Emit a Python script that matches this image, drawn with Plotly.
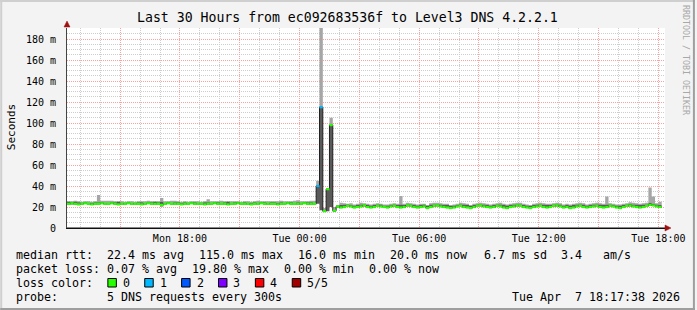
import pandas as pd
import plotly.graph_objects as go

# ---------------- data (10-minute bins starting Mon 12:20) ----------------
bin_start = "2026-04-06 12:20"
bin_minutes = 10

median_ms = [
    23.0, 23.5, 23.0, 22.5, 23.0, 23.5, 23.0, 22.5, 23.0, 23.0,
    23.5, 23.0, 23.0, 23.5, 23.0, 22.5, 23.0, 23.0, 23.5, 23.0,
    23.0, 23.0, 22.5, 23.0, 23.5, 23.0, 23.0, 23.0, 22.0, 23.0,
    23.5, 23.0, 23.0, 23.0, 22.5, 23.0, 23.0, 23.5, 23.0, 23.0,
    23.0, 22.5, 23.0, 23.0, 23.5, 23.0, 23.0, 23.0, 22.5, 23.0,
    23.0, 23.5, 23.0, 23.0, 23.0, 22.5, 23.0, 23.0, 23.5, 23.0,
    23.0, 23.0, 23.0, 22.5, 23.0, 23.0, 23.5, 23.0, 23.0, 23.0,
    23.0, 23.5, 23.0, 23.0, 23.0,
    40.0, 115.0, 16.0, 37.0, 98.0, 16.5,
    20.5, 19.5, 20.0, 21.0, 20.5, 19.5, 20.0, 20.5, 21.5, 20.0,
    19.5, 20.0, 21.0, 20.5, 20.0, 19.5, 20.5, 21.0, 20.0, 19.5,
    20.0, 21.5, 21.0, 20.0, 19.5, 20.0, 20.5, 19.0, 20.0, 21.0,
    21.5, 20.5, 20.0, 19.5, 19.0, 19.5, 20.5, 21.0, 20.0, 19.5,
    19.0, 20.0, 21.0, 21.5, 20.5, 20.0, 19.5, 20.0, 21.0, 20.5,
    19.5, 19.0, 20.0, 20.5, 21.5, 21.0, 20.0, 19.5, 19.0, 20.0,
    20.5, 21.0, 20.0, 19.5, 20.0, 21.0, 21.5, 20.5, 19.5, 20.0,
    19.0, 19.5, 20.5, 21.0, 20.0, 19.5, 20.0, 20.5, 21.0, 20.0,
    19.5, 20.0, 21.0, 20.5, 19.5, 19.0, 20.0, 21.0, 21.5, 20.5,
    20.0, 19.5, 20.0, 21.0, 22.0, 21.5, 20.5, 20.0,
]

smoke_min = [
    22.5, 22.5, 22.5, 22.0, 22.5, 23.0, 22.5, 22.0, 22.5, 22.5,
    23.0, 22.5, 22.5, 23.0, 22.5, 22.0, 22.5, 22.5, 23.0, 22.5,
    22.5, 22.5, 22.0, 22.5, 23.0, 22.5, 22.5, 22.5, 20.5, 22.5,
    23.0, 22.5, 22.5, 22.5, 22.0, 22.5, 22.5, 23.0, 22.5, 22.5,
    22.5, 22.0, 22.5, 22.5, 23.0, 22.5, 22.5, 22.5, 22.0, 22.5,
    22.5, 23.0, 22.5, 22.5, 22.5, 22.0, 22.5, 22.5, 23.0, 22.5,
    22.5, 22.5, 22.5, 22.0, 22.5, 22.5, 23.0, 22.5, 22.5, 22.5,
    22.5, 23.0, 22.5, 22.5, 22.5,
    23.0, 17.0, 15.5, 16.0, 20.0, 15.5,
    19.5, 19.0, 19.5, 20.0, 20.0, 19.0, 19.5, 20.0, 20.5, 19.5,
    19.0, 19.5, 20.0, 20.0, 19.5, 19.0, 20.0, 20.0, 19.5, 19.0,
    19.5, 20.5, 20.0, 19.5, 19.0, 19.5, 20.0, 18.5, 19.5, 20.0,
    20.5, 20.0, 19.5, 19.0, 18.5, 19.0, 20.0, 20.0, 19.5, 19.0,
    18.5, 19.5, 20.0, 20.5, 20.0, 19.5, 19.0, 19.5, 20.0, 20.0,
    19.0, 18.5, 19.5, 20.0, 20.5, 20.0, 19.5, 19.0, 18.5, 19.5,
    20.0, 20.0, 19.5, 19.0, 19.5, 20.0, 20.5, 20.0, 19.0, 19.5,
    18.5, 19.0, 20.0, 20.0, 19.5, 19.0, 19.5, 20.0, 20.0, 19.5,
    19.0, 19.5, 20.0, 20.0, 19.0, 18.5, 19.5, 20.0, 20.5, 20.0,
    19.5, 19.0, 19.5, 20.0, 21.0, 21.0, 20.0, 19.5,
]

smoke_core = [
    25.0, 24.5, 25.0, 24.5, 24.0, 24.5, 24.0, 24.0, 24.5, 24.5,
    24.5, 24.0, 24.0, 24.5, 24.5, 25.0, 24.0, 24.0, 24.5, 24.0,
    24.0, 24.5, 24.5, 24.0, 24.5, 24.5, 25.0, 24.5, 25.0, 24.0,
    24.5, 24.0, 24.5, 24.5, 24.0, 24.5, 24.0, 24.5, 24.5, 24.0,
    24.0, 24.5, 24.5, 24.0, 24.5, 24.5, 24.0, 24.5, 25.0, 24.0,
    24.5, 24.5, 24.0, 24.5, 24.0, 24.0, 24.5, 24.0, 24.5, 24.5,
    24.0, 24.5, 24.5, 24.0, 24.5, 24.0, 24.5, 24.5, 24.0, 24.5,
    24.0, 24.5, 24.5, 24.5, 24.0,
    41.0, 115.0, 16.5, 37.0, 98.0, 17.0,
    21.5, 22.0, 22.5, 22.5, 22.0, 21.5, 22.0, 22.5, 22.5, 22.0,
    21.5, 22.0, 22.5, 22.5, 21.5, 21.5, 22.0, 22.5, 22.0, 22.5,
    22.0, 22.5, 22.5, 22.0, 21.5, 22.0, 22.5, 21.0, 22.5, 22.5,
    22.5, 22.5, 22.0, 22.0, 21.0, 21.5, 22.0, 22.5, 22.5, 22.0,
    21.0, 22.0, 22.5, 22.5, 22.5, 22.0, 21.5, 22.0, 22.5, 22.5,
    22.0, 21.5, 22.0, 22.5, 22.5, 22.5, 22.0, 21.5, 21.0, 22.0,
    22.5, 22.5, 22.5, 22.0, 22.0, 22.5, 22.5, 22.5, 21.5, 22.0,
    21.5, 22.0, 22.5, 22.5, 22.5, 21.5, 22.0, 22.5, 22.5, 22.5,
    22.0, 22.5, 22.5, 22.0, 21.5, 21.5, 22.0, 22.5, 23.0, 22.5,
    22.5, 22.0, 22.5, 22.5, 24.0, 23.0, 22.5, 22.0,
]

smoke_max = [
    25.5, 25.5, 26.0, 25.5, 25.0, 25.5, 25.5, 25.0, 25.5, 31.5,
    26.0, 26.0, 26.0, 26.0, 25.5, 25.5, 25.5, 25.0, 25.5, 25.5,
    25.0, 25.5, 25.5, 25.5, 26.0, 25.5, 25.5, 25.5, 28.5, 25.5,
    25.5, 26.0, 26.0, 25.5, 25.0, 25.5, 25.0, 25.5, 25.5, 25.5,
    25.0, 25.5, 27.5, 25.5, 25.5, 25.5, 26.0, 25.5, 25.5, 25.5,
    25.5, 25.5, 25.0, 25.5, 25.5, 25.0, 25.5, 26.0, 25.5, 25.5,
    25.5, 25.5, 25.5, 25.5, 26.0, 25.5, 25.5, 25.5, 26.0, 26.5,
    25.5, 25.5, 25.5, 26.0, 26.0,
    45.0, 200.0, 19.0, 38.0, 105.0, 20.0,
    22.0, 24.0, 23.5, 23.0, 23.5, 22.5, 23.0, 24.0, 23.5, 23.0,
    22.5, 23.0, 23.5, 23.0, 22.5, 22.5, 23.0, 23.5, 23.0, 30.5,
    23.0, 24.0, 23.5, 23.0, 22.5, 23.0, 23.0, 22.0, 23.5, 24.0,
    24.0, 23.5, 23.0, 23.0, 22.0, 22.5, 23.0, 24.0, 23.5, 23.0,
    22.0, 23.0, 23.5, 24.0, 23.5, 23.0, 22.5, 23.0, 23.5, 24.0,
    23.0, 22.5, 23.0, 23.5, 24.0, 24.0, 23.0, 22.5, 22.0, 23.0,
    23.5, 24.0, 23.5, 23.0, 23.0, 23.5, 24.0, 23.5, 22.5, 23.0,
    22.5, 23.0, 23.5, 24.0, 23.5, 22.5, 23.0, 23.5, 24.0, 23.5,
    23.0, 30.0, 23.5, 23.0, 22.5, 22.5, 23.0, 23.5, 24.5, 24.0,
    23.5, 23.0, 23.5, 24.0, 38.5, 30.0, 23.5, 25.0,
]

# bins with lost pings (index into the arrays above) and how many of 5 were lost
loss_bins = [75, 76]
loss_counts = [1, 1]

loss_labels = ["0", "1", "2", "3", "4", "5/5"]
loss_colors = ["#26ff00", "#00b8ff", "#0059ff", "#7e00ff", "#ff0000", "#a10000"]

y_tickvals = [0, 20, 40, 60, 80, 100, 120, 140, 160, 180]
y_ticktext = ["0", "20 m", "40 m", "60 m", "80 m", "100 m", "120 m", "140 m", "160 m", "180 m"]

title_text = "Last 30 Hours from ec092683536f to Level3 DNS 4.2.2.1"
rtt_items = ["median rtt:  22.4 ms avg", "115.0 ms max", "16.0 ms min", "20.0 ms now", "6.7 ms sd  3.4   am/s"]
loss_items = ["packet loss: 0.07 % avg", "19.80 % max", "0.00 % min", "0.00 % now"]
color_label = "loss color:"
probe_items = ["probe:", "5 DNS requests every 300s"]
stamp_text = "Tue Apr  7 18:17:38 2026"

n = len(median_ms)
assert len(smoke_min) == n and len(smoke_core) == n and len(smoke_max) == n

# ---------------- layout geometry (pixels) ----------------
W, H = 697, 310
L, R, T, B = 67, 667, 28, 228
MONO = "DejaVu Sans Mono"
LEG_SIZE = 11.63          # gives a 7.0 px character advance

def px(xp):
    return (xp - L) / (R - L)

def py(yp):
    return (B - yp) / (B - T)

def keep_spaces(s):
    return s.replace(" ", "\u00a0")

edges = list(pd.date_range(bin_start, periods=n + 1, freq=f"{bin_minutes}min"))
x_start = pd.Timestamp("2026-04-06 12:20")
x_end = pd.Timestamp("2026-04-07 18:20")

loss = [0] * n
for b, c in zip(loss_bins, loss_counts):
    loss[b] = c

fig = go.Figure()

def stepped(vals, **kw):
    return go.Scatter(x=edges, y=list(vals) + [vals[-1]], mode="lines",
                      line=dict(width=0, shape="hv"), hoverinfo="skip", **kw)

# light smoke (core top -> max)
fig.add_trace(stepped(smoke_core))
fig.add_trace(stepped(smoke_max, fill="tonexty", fillcolor="#a6a6a6"))
# dark smoke (min -> core top)
fig.add_trace(stepped(smoke_min))
fig.add_trace(stepped(smoke_core, fill="tonexty", fillcolor="#5a5a5a"))

# thin dark median step line
fig.add_trace(go.Scatter(x=edges, y=list(median_ms) + [median_ms[-1]], mode="lines",
                         line=dict(color="#202020", width=1, shape="hv"), hoverinfo="skip"))

# coloured median segments by loss
for lvl in sorted(set(loss)):
    xs, ys = [], []
    for k in range(n):
        if loss[k] == lvl:
            xs += [edges[k], edges[k + 1], None]
            ys += [median_ms[k], median_ms[k], None]
    fig.add_trace(go.Scatter(x=xs, y=ys, mode="lines",
                             line=dict(color=loss_colors[lvl], width=2.2),
                             hoverinfo="skip"))

tick_times = list(pd.date_range("2026-04-06 15:00", "2026-04-07 18:00", freq="3h"))
tick_text = [ts.strftime("%a %H:%M") if ts.hour % 6 == 0 else "" for ts in tick_times]

RED = "#ffa0a0"
GREY = "#cdcdcd"

fig.update_layout(
    width=W, height=H,
    margin=dict(l=L, r=W - R, t=T, b=H - B, pad=0),
    paper_bgcolor="#f3f3f3",
    plot_bgcolor="#ffffff",
    showlegend=False,
    font=dict(family=MONO, size=10, color="#000000"),
    xaxis=dict(
        type="date", range=[x_start, x_end],
        tickmode="array", tickvals=tick_times, ticktext=tick_text,
        showgrid=True, gridcolor=RED, gridwidth=1, griddash="1px,1px",
        minor=dict(tickmode="linear", tick0="2026-04-06 12:00", dtick=3600000,
                   showgrid=True, gridcolor=GREY, gridwidth=1, griddash="1px,1px"),
        showline=True, linecolor="#111111", linewidth=1,
        zeroline=False, ticks="", tickfont=dict(family=MONO, size=10),
        ticklabelstandoff=1,
        fixedrange=True,
    ),
    yaxis=dict(
        range=[0, (B - T) / 1.05],
        tickmode="array", tickvals=y_tickvals, ticktext=y_ticktext,
        showgrid=True, gridcolor=RED, gridwidth=1, griddash="1px,1px",
        minor=dict(tickmode="linear", tick0=0, dtick=5,
                   showgrid=True, gridcolor=GREY, gridwidth=1, griddash="1px,1px"),
        showline=True, linecolor="#444444", linewidth=1,
        zeroline=False, ticks="", tickfont=dict(family=MONO, size=10),
        ticklabelstandoff=8,
        fixedrange=True,
    ),
)

def text(xp, yp, s, size=LEG_SIZE, anchor="left", color="#000000", angle=0):
    fig.add_annotation(x=px(xp), y=py(yp), xref="paper", yref="paper", text=keep_spaces(s),
                       showarrow=False, xanchor=anchor, yanchor="middle",
                       font=dict(family=MONO, size=size, color=color),
                       textangle=angle, borderpad=0, borderwidth=0)

# title and side texts
text(W / 2, 18, title_text, size=13.2, anchor="center")
text(11, 127, "Seconds", size=11, anchor="center", angle=-90)
text(688, 60, "RRDTOOL / TOBI OETIKER", size=8.3, anchor="center", color="#a8a8a8", angle=90)

# legend rows (item start positions in pixels)
rtt_x = [16, 199.5, 299, 391.5, 485.5]
for xx, s in zip(rtt_x, rtt_items):
    text(xx, 255, s)
loss_x = [16, 192.5, 285, 370.5]
for xx, s in zip(loss_x, loss_items):
    text(xx, 269, s)
text(16, 283, color_label)
box_x = [108, 145, 182, 219, 256, 293]
for xx, lab, col in zip(box_x, loss_labels, loss_colors):
    fig.add_shape(type="rect", xref="paper", yref="paper",
                  x0=px(xx), x1=px(xx + 8.5), y0=py(287), y1=py(278.5),
                  fillcolor=col, line=dict(color="#000000", width=1))
    text(xx + 15, 283, lab)
text(16, 297, probe_items[0])
text(107, 297, probe_items[1])
text(682, 297, stamp_text, anchor="right")

# axis arrows
fig.add_shape(type="line", xref="paper", yref="paper", layer="above",
              x0=px(67), x1=px(668), y0=py(228), y1=py(228),
              line=dict(color="#111111", width=1))
fig.add_shape(type="path", xref="paper", yref="paper", layer="above",
              path=f"M {px(667)},{py(225)} L {px(673)},{py(228)} L {px(667)},{py(231)} Z",
              fillcolor="#a01010", line=dict(color="#a01010", width=0.5))
fig.add_shape(type="path", xref="paper", yref="paper", layer="above",
              path=f"M {px(64)},{py(27)} L {px(67)},{py(21)} L {px(70)},{py(27)} Z",
              fillcolor="#a01010", line=dict(color="#a01010", width=0.5))

# 3D frame
fig.add_shape(type="rect", xref="paper", yref="paper", x0=px(0), x1=px(W), y0=py(0), y1=py(2),
              fillcolor="#cfcfcf", line=dict(width=0))
fig.add_shape(type="rect", xref="paper", yref="paper", x0=px(0), x1=px(2), y0=py(0), y1=py(H),
              fillcolor="#cfcfcf", line=dict(width=0))
fig.add_shape(type="rect", xref="paper", yref="paper", x0=px(W - 2), x1=px(W), y0=py(0), y1=py(H),
              fillcolor="#9e9e9e", line=dict(width=0))
fig.add_shape(type="rect", xref="paper", yref="paper", x0=px(0), x1=px(W), y0=py(H - 2), y1=py(H),
              fillcolor="#9e9e9e", line=dict(width=0))

fig.write_html("out.html", config={"displayModeBar": False})
